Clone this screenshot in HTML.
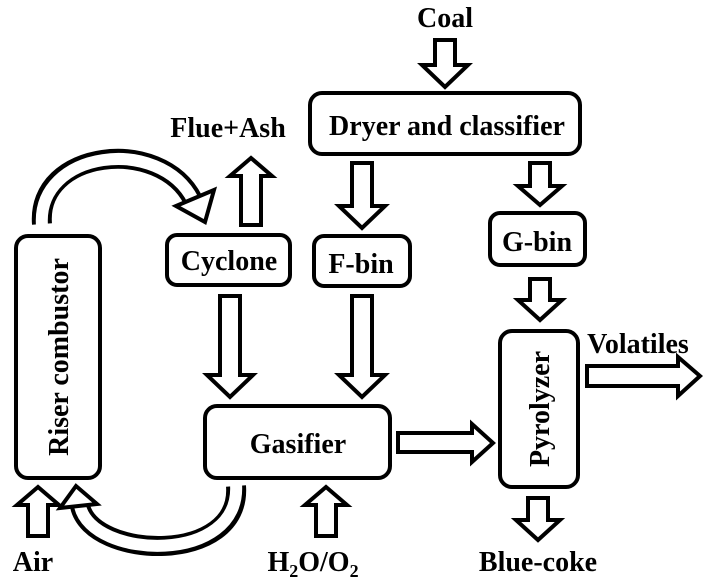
<!DOCTYPE html>
<html><head><style>
html,body{margin:0;padding:0;background:#fff;}
svg{display:block;}
text{font-family:"Liberation Serif",serif;font-weight:bold;fill:#000;}
</style></head><body>
<svg width="708" height="586" viewBox="0 0 708 586" xmlns="http://www.w3.org/2000/svg">
<g fill="#fff" stroke="#000" stroke-width="4" stroke-linejoin="miter">
<rect x="310" y="93" width="270" height="61" rx="12"/>
<rect x="167" y="235" width="123" height="50" rx="10"/>
<rect x="314" y="236" width="96" height="50" rx="10"/>
<rect x="490" y="213" width="95" height="52" rx="10"/>
<rect x="500" y="331" width="78" height="156" rx="12"/>
<rect x="16" y="236" width="84" height="242" rx="12"/>
<rect x="205" y="406" width="185" height="72" rx="12"/>
<polygon points="435,40 455,40 455,65 468,65 445,87 422,65 435,65"/>
<polygon points="352,163 372,163 372,206 385,206 362,228 339,206 352,206"/>
<polygon points="530,163 550,163 550,186 562,186 540,205 518,186 530,186"/>
<polygon points="530,279 550,279 550,300 562,300 540,320 518,300 530,300"/>
<polygon points="220,296 240,296 240,375 253,375 230,397 207,375 220,375"/>
<polygon points="352,296 372,296 372,375 385,375 362,397 339,375 352,375"/>
<polygon points="528,498 548,498 548,520 560,520 538,540 516,520 528,520"/>
<polygon points="241,225 261,225 261,176 272,176 251,158 230,176 241,176"/>
<polygon points="28,536 48,536 48,505 59,505 38,487 17,505 28,505"/>
<polygon points="316,536 336,536 336,505 347,505 326,487 305,505 316,505"/>
<polygon points="398,433 472,433 472,424 493,443 472,462 472,452 398,452"/>
<polygon points="587,366 678,366 678,357 700,376 678,396 678,386 587,386"/>
</g>
<path d="M42,224 C36,150 160,135 193,200" fill="none" stroke="#000" stroke-width="20"/>
<path d="M42,226 C36,150 160,135 193,200" fill="none" stroke="#fff" stroke-width="12"/>
<polygon points="176,206 205,222 214,190" fill="#fff" stroke="#000" stroke-width="4"/>
<path d="M236,486 C242,565 92,560 80,506" fill="none" stroke="#000" stroke-width="20"/>
<path d="M236,484 C242,565 92,560 80,506" fill="none" stroke="#fff" stroke-width="12"/>
<polygon points="60,508 76,486 97,504" fill="#fff" stroke="#000" stroke-width="4"/>
<g font-size="28" text-anchor="middle">
<text x="445" y="27">Coal</text>
<text x="447" y="135">Dryer and classifier</text>
<text x="228" y="137">Flue+Ash</text>
<text x="229" y="270">Cyclone</text>
<text x="361" y="273">F-bin</text>
<text x="537" y="251">G-bin</text>
<text x="638" y="353">Volatiles</text>
<text x="298" y="453">Gasifier</text>
<text x="538" y="571">Blue-coke</text>
<text x="33" y="571">Air</text>
<text x="313" y="571">H<tspan font-size="18" dy="6">2</tspan><tspan dy="-6">O/O</tspan><tspan font-size="18" dy="6">2</tspan></text>
<text transform="translate(68,357) rotate(-90)">Riser combustor</text>
<text transform="translate(549,409) rotate(-90)">Pyrolyzer</text>
</g>
</svg>
</body></html>
